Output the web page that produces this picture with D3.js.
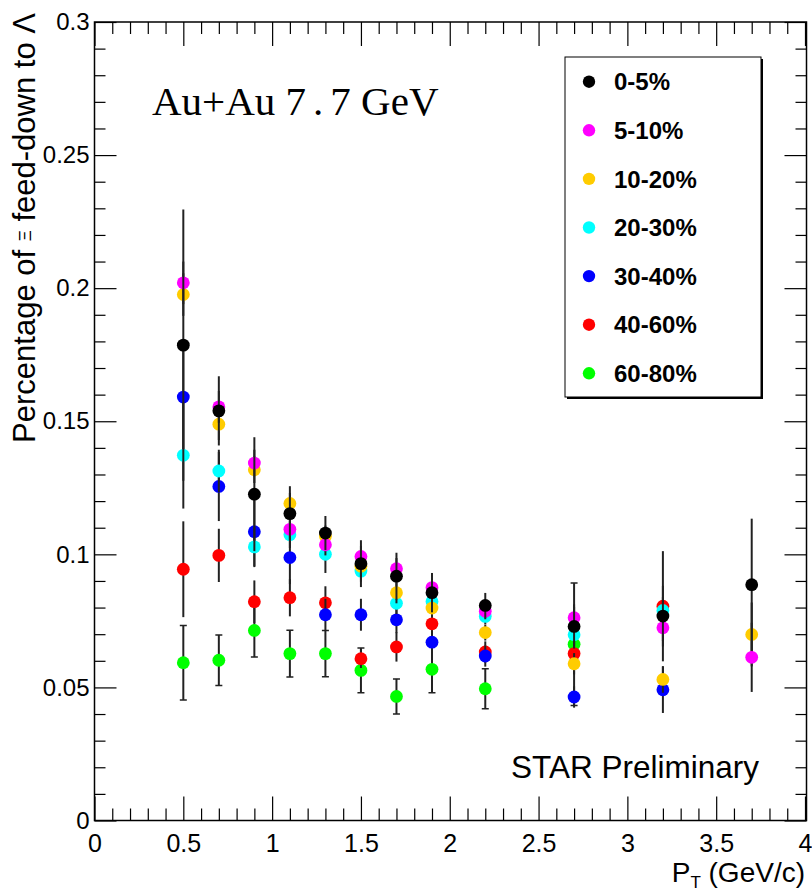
<!DOCTYPE html>
<html>
<head>
<meta charset="utf-8">
<script src="https://cdn.jsdelivr.net/npm/d3@7/dist/d3.min.js"></script>
<style>
  html, body { margin: 0; padding: 0; background: #fff; }
  svg { display: block; }
  text { font-family: "Liberation Sans", Arial, Helvetica, sans-serif; fill: #000; }
  text.serif { font-family: "Liberation Serif", "Times New Roman", serif; }
</style>
</head>
<body>
<svg id="chart" width="812" height="892"></svg>
<script>
// Transverse-momentum bin centres (GeV/c)
const ptBins = [0.5, 0.7, 0.9, 1.1, 1.3, 1.5, 1.7, 1.9, 2.2, 2.7, 3.2, 3.7];

// Centrality classes, in legend order
const centralities = ["0-5%", "5-10%", "10-20%", "20-30%", "30-40%", "40-60%", "60-80%"];

// Xi feed-down fraction per centrality and its uncertainty
const frac0to5   = [0.1786, 0.1539, 0.1226, 0.1153, 0.1080, 0.0965, 0.0918, 0.0856, 0.0808, 0.0729, 0.0768, 0.0886];
const err0to5    = [0.0510, 0.0130, 0.0214, 0.0103, 0.0064, 0.0088, 0.0088, 0.0074, 0.0047, 0.0083, 0.0114, 0.0248];
const frac5to10  = [0.2020, 0.1554, 0.1343, 0.1094, 0.1036, 0.0992, 0.0946, 0.0875, 0.0786, 0.0762, 0.0724, 0.0613];
const err5to10   = [0.0080, 0.0060, 0.0050, 0.0040, 0.0040, 0.0040, 0.0040, 0.0030, 0.0030, 0.0040, 0.0050, 0.0130];
const frac10to20 = [0.1976, 0.1489, 0.1318, 0.1191, 0.1068, 0.0955, 0.0856, 0.0798, 0.0706, 0.0589, 0.0530, 0.0699];
const err10to20  = [0.0080, 0.0060, 0.0050, 0.0040, 0.0040, 0.0040, 0.0040, 0.0030, 0.0030, 0.0040, 0.0050, 0.0120];
const frac20to30 = [0.1372, 0.1313, 0.1028, 0.1074, 0.1000, 0.0937, 0.0816, 0.0823, 0.0767, 0.0698, 0.0789];
const err20to30  = [0.0200, 0.0080, 0.0076, 0.0050, 0.0070, 0.0040, 0.0040, 0.0030, 0.0030, 0.0040, 0.0050];
const frac30to40 = [0.1591, 0.1255, 0.1085, 0.0988, 0.0773, 0.0773, 0.0754, 0.0670, 0.0618, 0.0464, 0.0491];
const err30to40  = [0.0200, 0.0130, 0.0130, 0.0100, 0.0060, 0.0060, 0.0050, 0.0040, 0.0040, 0.0040, 0.0087];
const frac40to60 = [0.0944, 0.0996, 0.0822, 0.0837, 0.0818, 0.0608, 0.0652, 0.0739, 0.0633, 0.0627, 0.0805];
const err40to60  = [0.0180, 0.0100, 0.0080, 0.0070, 0.0062, 0.0035, 0.0055, 0.0050, 0.0040, 0.0050, 0.0207];
const frac60to80 = [0.0593, 0.0602, 0.0714, 0.0627, 0.0627, 0.0564, 0.0466, 0.0568, 0.0495, 0.0662];
const err60to80  = [0.0140, 0.0095, 0.0100, 0.0088, 0.0087, 0.0084, 0.0066, 0.0088, 0.0075, 0.0230];

// Axis ticks
const xMajorTicks = [0, 0.5, 1, 1.5, 2, 2.5, 3, 3.5, 4];
const xTickLabels = ["0", "0.5", "1", "1.5", "2", "2.5", "3", "3.5", "4"];
const yMajorTicks = [0, 0.05, 0.1, 0.15, 0.2, 0.25, 0.3];
const yTickLabels = ["0", "0.05", "0.1", "0.15", "0.2", "0.25", "0.3"];

// Marker colours, one per centrality class
const markerColors = ["#000000", "#ff00ff", "#ffcc00", "#00ffff", "#0000ff", "#ff0000", "#00ff00"];

const fractions = [frac0to5, frac5to10, frac10to20, frac20to30, frac30to40, frac40to60, frac60to80];
const errors    = [err0to5, err5to10, err10to20, err20to30, err30to40, err40to60, err60to80];

const series = centralities.map((name, i) => ({
  name,
  color: markerColors[i],
  capped: i === 6,
  points: fractions[i].map((v, j) => ({ pt: ptBins[j], v, e: errors[i][j] }))
}));

const svg = d3.select("#chart");
const x = d3.scaleLinear().domain([0, 4]).range([94.5, 805]);
const y = d3.scaleLinear().domain([0, 0.3]).range([820.5, 22]);

const xMinor = d3.range(0, 41).map(d => d / 10).filter(d => Math.abs(d * 2 - Math.round(d * 2)) > 1e-6);
const yMinor = d3.range(0, 31).map(d => d / 100).filter(d => Math.abs(d * 20 - Math.round(d * 20)) > 1e-6);

const axisStyle = g => {
  g.select(".domain").remove();
  g.selectAll(".tick line").attr("stroke", "#000").attr("stroke-width", 1.2);
};

// Bottom axis: major ticks with labels, then minor ticks
svg.append("g").attr("transform", `translate(0,${y(0)})`)
  .call(d3.axisBottom(x).tickValues(xMajorTicks).tickSizeInner(-24).tickSizeOuter(0).tickPadding(14)
    .tickFormat((d, i) => xTickLabels[i]))
  .call(axisStyle)
  .call(g => g.selectAll("text").attr("font-size", 25));
svg.append("g").attr("transform", `translate(0,${y(0)})`)
  .call(d3.axisBottom(x).tickValues(xMinor).tickSizeInner(-12).tickSizeOuter(0).tickFormat(""))
  .call(axisStyle);

// Top axis: ticks only
svg.append("g").attr("transform", `translate(0,${y(0.3)})`)
  .call(d3.axisTop(x).tickValues(xMajorTicks).tickSizeInner(-24).tickSizeOuter(0).tickFormat(""))
  .call(axisStyle);
svg.append("g").attr("transform", `translate(0,${y(0.3)})`)
  .call(d3.axisTop(x).tickValues(xMinor).tickSizeInner(-12).tickSizeOuter(0).tickFormat(""))
  .call(axisStyle);

// Left axis with labels
svg.append("g").attr("transform", `translate(${x(0)},0)`)
  .call(d3.axisLeft(y).tickValues(yMajorTicks).tickSizeInner(-22).tickSizeOuter(0).tickPadding(5)
    .tickFormat((d, i) => yTickLabels[i]))
  .call(axisStyle)
  .call(g => g.selectAll("text").attr("font-size", 24));
svg.append("g").attr("transform", `translate(${x(0)},0)`)
  .call(d3.axisLeft(y).tickValues(yMinor).tickSizeInner(-11).tickSizeOuter(0).tickFormat(""))
  .call(axisStyle);

// Right axis: ticks only
svg.append("g").attr("transform", `translate(${x(4) + 1.5},0)`)
  .call(d3.axisRight(y).tickValues(yMajorTicks).tickSizeInner(-22).tickSizeOuter(0).tickFormat(""))
  .call(axisStyle);
svg.append("g").attr("transform", `translate(${x(4) + 1.5},0)`)
  .call(d3.axisRight(y).tickValues(yMinor).tickSizeInner(-11).tickSizeOuter(0).tickFormat(""))
  .call(axisStyle);

// Frame
svg.append("rect")
  .attr("x", x(0)).attr("y", y(0.3))
  .attr("width", x(4) + 1.5 - x(0)).attr("height", y(0) - y(0.3))
  .attr("fill", "none").attr("stroke", "#000").attr("stroke-width", 1.5);

// Data: drawn from the most peripheral class up, so 0-5% ends on top
const plot = svg.append("g");
series.slice().reverse().forEach(s => {
  const g = plot.append("g");
  g.selectAll("line.err").data(s.points).join("line")
    .attr("class", "err")
    .attr("x1", d => x(d.pt)).attr("x2", d => x(d.pt))
    .attr("y1", d => y(d.v + d.e)).attr("y2", d => y(d.v - d.e))
    .attr("stroke", "#222").attr("stroke-width", 2);
  if (s.capped) {
    g.selectAll("path.cap").data(s.points).join("path")
      .attr("class", "cap")
      .attr("d", d => `M${x(d.pt) - 3.5},${y(d.v + d.e)}h7M${x(d.pt) - 3.5},${y(d.v - d.e)}h7`)
      .attr("stroke", "#222").attr("stroke-width", 1.5);
  }
  g.selectAll("circle").data(s.points).join("circle")
    .attr("cx", d => x(d.pt)).attr("cy", d => y(d.v))
    .attr("r", 6.4).attr("fill", s.color);
});

// Legend
const lg = svg.append("g");
lg.append("rect").attr("x", 567).attr("y", 59).attr("width", 196).attr("height", 340).attr("fill", "#000");
lg.append("rect").attr("x", 565).attr("y", 57).attr("width", 196).attr("height", 340)
  .attr("fill", "#fff").attr("stroke", "#000").attr("stroke-width", 1);
series.forEach((s, i) => {
  const cy = 81.7 + i * 48.6;
  lg.append("circle").attr("cx", 589).attr("cy", cy).attr("r", 6.2).attr("fill", s.color);
  lg.append("text").attr("x", 614).attr("y", cy + 8.6)
    .attr("font-size", 24).attr("font-weight", "bold").text(s.name);
});

// Annotations
const title = svg.append("text").attr("class", "serif").attr("x", 152).attr("y", 115)
  .attr("font-size", 41);
title.append("tspan").text("Au+Au ");
title.append("tspan").text("7");
title.append("tspan").attr("dx", 7).text(".");
title.append("tspan").attr("dx", 7).text("7");
title.append("tspan").text(" GeV");

svg.append("text").attr("x", 511).attr("y", 778).attr("font-size", 31.5).text("STAR Preliminary");

// Axis titles
const yTitle = svg.append("text")
  .attr("transform", "translate(35,13) rotate(-90)")
  .attr("text-anchor", "end").attr("font-size", 31);
yTitle.append("tspan").text("Percentage of ");
yTitle.append("tspan").attr("font-size", 17).attr("dy", -4).text("Ξ");
yTitle.append("tspan").attr("dy", 4).text(" feed-down to Λ");

const xTitle = svg.append("text").attr("x", 805).attr("y", 882)
  .attr("text-anchor", "end").attr("font-size", 28);
xTitle.append("tspan").text("P");
xTitle.append("tspan").attr("font-size", 17).attr("dy", 6).text("T");
xTitle.append("tspan").attr("dy", -6).text(" (GeV/c)");
</script>
</body>
</html>
